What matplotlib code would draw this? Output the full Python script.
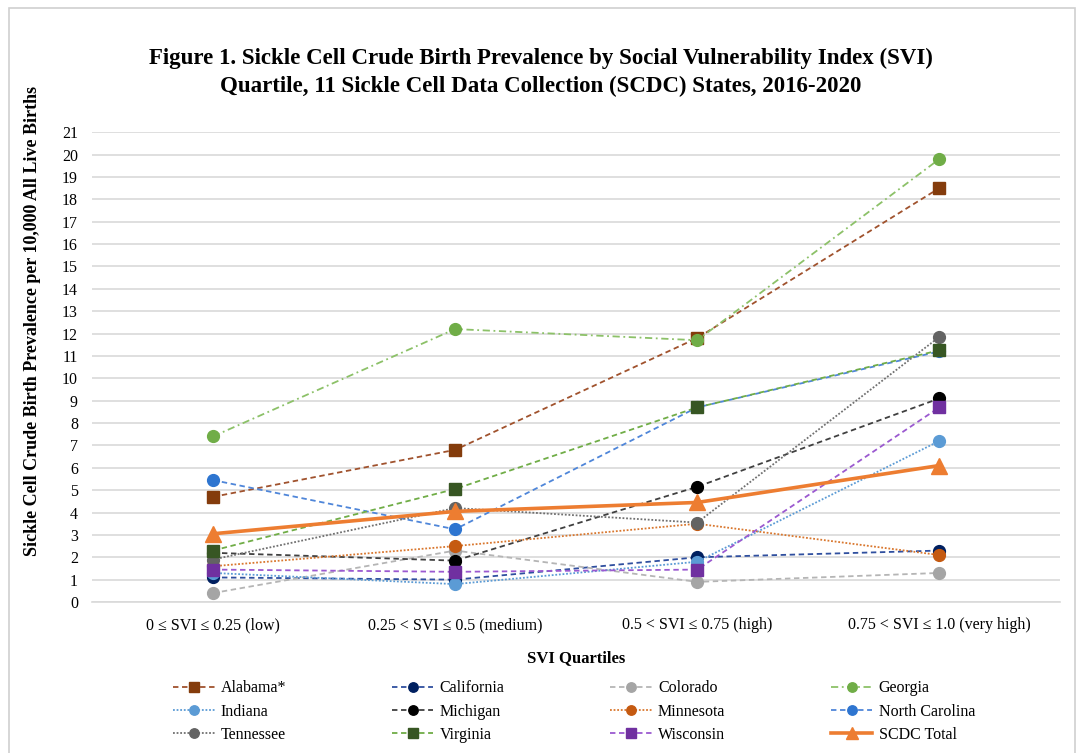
import numpy as np
import matplotlib.pyplot as plt
from matplotlib.patches import Rectangle

plt.rcParams['font.family'] = ['Liberation Serif', 'DejaVu Serif']

categories = ['0 ≤ SVI ≤ 0.25 (low)', '0.25 < SVI ≤ 0.5 (medium)',
              '0.5 < SVI ≤ 0.75 (high)', '0.75 < SVI ≤ 1.0 (very high)']

states = ['Alabama*', 'California', 'Colorado', 'Georgia',
          'Indiana', 'Michigan', 'Minnesota', 'North Carolina',
          'Tennessee', 'Virginia', 'Wisconsin', 'SCDC Total']

alabama = [4.7, 6.8, 11.8, 18.5]
california = [1.1, 1.0, 2.0, 2.3]
colorado = [0.4, 2.3, 0.9, 1.3]
georgia = [7.4, 12.2, 11.7, 19.8]
indiana = [1.3, 0.8, 1.8, 7.2]
michigan = [2.2, 1.85, 5.15, 9.1]
minnesota = [1.6, 2.5, 3.5, 2.1]
north_carolina = [5.45, 3.25, 8.7, 11.2]
tennessee = [1.9, 4.2, 3.55, 11.85]
virginia = [2.3, 5.05, 8.7, 11.25]
wisconsin = [1.45, 1.35, 1.45, 8.7]
scdc_total = [3.05, 4.05, 4.45, 6.1]

values = [alabama, california, colorado, georgia, indiana, michigan,
          minnesota, north_carolina, tennessee, virginia, wisconsin, scdc_total]

dash = (0, (3, 2))
dot = (0, (1, 1))
dashdot = (0, (4, 2, 1, 2))
# (line colour, marker face colour, linestyle, marker)
styles = [
    ('#A0522D', '#843C0C', dash, 's'),
    ('#2F4F9F', '#002060', dash, 'o'),
    ('#B5B5B5', '#A5A5A5', dash, 'o'),
    ('#8CC168', '#70AD47', dashdot, 'o'),
    ('#5B9BD5', '#5B9BD5', dot, 'o'),
    ('#404040', '#000000', dash, 'o'),
    ('#D9772E', '#C55A11', dot, 'o'),
    ('#4F86D9', '#2E75D0', dash, 'o'),
    ('#707070', '#636363', dot, 'o'),
    ('#70AD47', '#375623', dash, 's'),
    ('#9B59D0', '#7030A0', dash, 's'),
    ('#ED7D31', '#ED7D31', '-', '^'),
]

fig = plt.figure(figsize=(10.81, 7.53), dpi=100)
ax = fig.add_axes([0.085, 0.2005, 0.896, 0.624])

x = np.arange(len(categories))
handles = []
for i, (name, vals) in enumerate(zip(states, values)):
    lc, mc, ls, mk = styles[i]
    if name == 'SCDC Total':
        h, = ax.plot(x, vals, color=lc, linestyle=ls, lw=2.6, marker=mk,
                     markersize=11, markerfacecolor=mc, markeredgecolor=mc,
                     zorder=5, label=name)
    else:
        h, = ax.plot(x, vals, color=lc, linestyle=ls, lw=1.3, marker=mk,
                     markersize=8.5, markerfacecolor=mc, markeredgecolor=mc,
                     zorder=3, label=name)
    handles.append(h)

ax.set_xlim(-0.5, 3.5)
ax.set_ylim(0, 21)
ax.set_yticks(range(0, 22))
ax.set_xticks(x)
ax.set_xticklabels(categories, fontsize=11.5)
ax.tick_params(axis='y', labelsize=11.5, length=0, pad=10)
ax.tick_params(axis='x', length=0, pad=11)
ax.grid(axis='y', color='#D9D9D9', lw=1.2)
ax.set_axisbelow(True)
for s in ['top', 'right', 'left']:
    ax.spines[s].set_visible(False)
ax.spines['bottom'].set_color('#D9D9D9')
ax.spines['bottom'].set_linewidth(1.2)

ax.set_ylabel('Sickle Cell Crude Birth Prevalence per 10,000 All Live Births',
              fontsize=13, fontweight='bold')
ax.yaxis.set_label_coords(-0.053, 0.598)
ax.set_xlabel('SVI Quartiles', fontsize=12, fontweight='bold', labelpad=12)

fig.text(0.5, 0.904, 'Figure 1. Sickle Cell Crude Birth Prevalence by Social Vulnerability Index (SVI)\n'
         'Quartile, 11 Sickle Cell Data Collection (SCDC) States, 2016-2020',
         ha='center', va='center', fontsize=16.5, fontweight='bold', linespacing=1.4)

order = [0, 4, 8, 1, 5, 9, 2, 6, 10, 3, 7, 11]
fig.legend([handles[i] for i in order], [states[i] for i in order],
           loc='center', bbox_to_anchor=(0.531, 0.055), ncol=4, frameon=False,
           fontsize=11.5, handlelength=2.6, columnspacing=6.6, labelspacing=0.45,
           handletextpad=0.4, markerscale=0.8)

fig.patches.append(Rectangle((0.008, -0.01), 0.986, 1.0, transform=fig.transFigure,
                             fill=False, edgecolor='#D0D0D0', lw=1.2))

fig.savefig('out.png', dpi=100)
